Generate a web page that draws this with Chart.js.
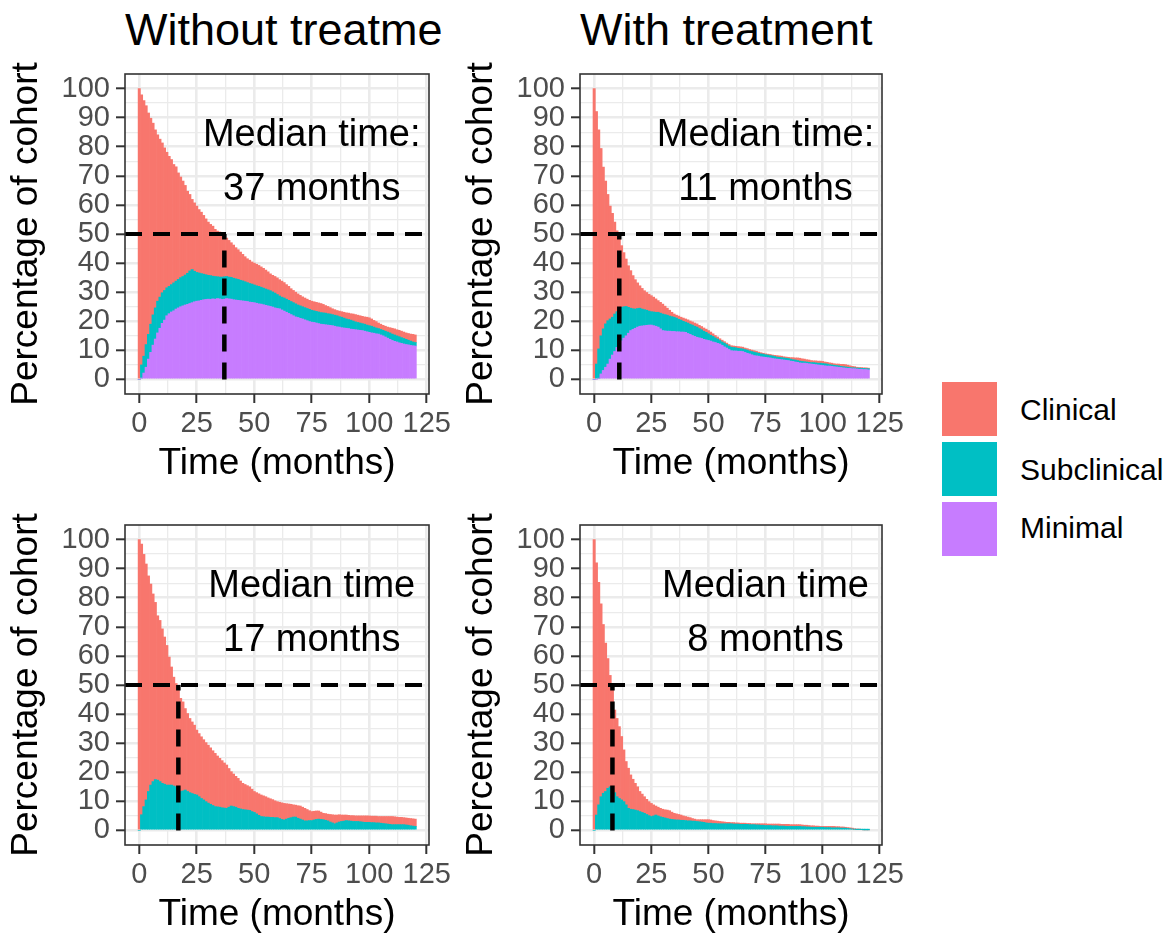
<!DOCTYPE html>
<html><head><meta charset="utf-8">
<script src="https://cdn.jsdelivr.net/npm/chart.js@4.4.1/dist/chart.umd.min.js"></script>
<style>
html,body{margin:0;padding:0;background:#fff;width:1172px;height:938px;overflow:hidden;font-family:"Liberation Sans",Arial,sans-serif;}
.panel{position:absolute;}
.title{position:absolute;font-size:45px;line-height:45px;color:#000;white-space:nowrap;}
.key{position:absolute;left:942px;width:55px;height:54px;}
.lab{position:absolute;left:1020px;font-size:30px;line-height:30px;color:#000;white-space:nowrap;}
</style></head><body>
<div class="title" style="left:125px;top:7px">Without treatme</div>
<div class="title" style="left:580px;top:7px">With treatment</div>
<div class="panel" style="left:0;top:54px"><canvas id="c0" width="455" height="435"></canvas></div>
<div class="panel" style="left:455px;top:54px"><canvas id="c1" width="465" height="435"></canvas></div>
<div class="panel" style="left:0;top:505px"><canvas id="c2" width="455" height="435"></canvas></div>
<div class="panel" style="left:455px;top:505px"><canvas id="c3" width="465" height="435"></canvas></div>
<div class="key" style="top:382px;background:#F8766D"></div>
<div class="key" style="top:442px;background:#00BFC4"></div>
<div class="key" style="top:502px;background:#C77CFF"></div>
<div class="lab" style="top:395px">Clinical</div>
<div class="lab" style="top:455px">Subclinical</div>
<div class="lab" style="top:513px">Minimal</div>
<script>
// ---------- data ----------
const months = [0,1,2,3,4,5,6,7,8,9,10,11,12,13,14,15,16,17,18,19,20,21,22,23,24,25,26,27,28,29,30,31,32,33,34,35,36,37,38,39,40,41,42,43,44,45,46,47,48,49,50,51,52,53,54,55,56,57,58,59,60,61,62,63,64,65,66,67,68,69,70,71,72,73,74,75,76,77,78,79,80,81,82,83,84,85,86,87,88,89,90,91,92,93,94,95,96,97,98,99,100,101,102,103,104,105,106,107,108,109,110,111,112,113,114,115,116,117,118,119,120];
const seriesNames = ['Clinical','Subclinical','Minimal'];
const seriesColors = ['#F8766D','#00BFC4','#C77CFF'];
const xTickValues = [0,25,50,75,100,125];
const yTickValues = [0,10,20,30,40,50,60,70,80,90,100];
const panelTitles = ['Without treatme','With treatment'];
const medianMonths = [37, 11, 17, 8];
const annotLine1 = ['Median time:','Median time:','Median time','Median time'];
const annotLine2 = ['37 months','11 months','17 months','8 months'];

// Top-left: total in any state (stack top), top of subclinical+minimal, minimal
const noTrtTotalA = [100,97.8,95.9,94.1,91.6,89.8,88.1,85.8,84.1,82.6,
81.3,79.6,78.1,76.7,75.6,73.9,73.1,71,69.6,68.2,
66.7,64.7,63.6,61.9,60.7,59.6,58.4,57.5,56.4,55.2,
54.1,53.3,52.7,51.6,51,50.7,50.2,49.9,48.6,47.8,
47,46.2,45.3,44.6,43.8,43,42.2,41.5,41,40.4,
40,39.6,39.2,38.7,38.2,37.6,37,36.3,35.8,35.4,
34.9,34.3,33.8,33.3,32.6,32,31.2,30.6,30,29.4,
28.9,28.4,28,27.6,27.2,26.9,26.7,26.5,26.3,26.1,
25.8,25.4,25.1,24.7,24.3,24,23.7,23.5,23.3,23.1,
22.9,22.8,22.6,22.5,22.3,22.1,21.9,21.7,21.5,21.4,
21.2,20.8,20.3,19.9,19.4,19,18.6,18.3,18,17.8,
17.6,17.4,17.1,16.9,16.6,16.3,16,15.8,15.6,15.5,
15.3];
const noTrtUpperA = [0,5,8,12,15.5,19,22.2,24.6,26.9,28.3,
29.8,30.6,31.5,32,32.6,33.2,33.8,34.4,35,35.4,
35.9,36.5,37.3,37.8,37.2,36.8,36.6,36.4,36.2,36,
35.8,35.7,35.5,35.4,35.3,35.2,35.2,35.3,35.4,35.2,
35.1,34.8,34.6,34.4,34.1,33.9,33.6,33.3,33,32.8,
32.5,32.2,32,31.7,31.4,31.1,30.8,30.5,30.1,29.7,
29.2,28.7,28.3,28,27.6,27.2,26.8,26.4,26,25.6,
25.3,25,24.7,24.4,24.1,23.8,23.6,23.4,23.2,23,
22.9,22.8,22.6,22.5,22.3,22.1,21.9,21.6,21.4,21.1,
20.8,20.6,20.4,20.1,19.8,19.6,19.4,19.2,19,18.7,
18.5,18.3,18,17.7,17.5,17.2,16.9,16.6,16.3,16,
15.6,15.3,15,14.7,14.4,14.1,13.8,13.5,13.2,12.9,
12.7];
const noTrtMinimalA = [0,0.5,2.2,4.2,7,9.3,11.8,13.9,16,17.6,
19.3,20.4,21.9,22.6,23.2,23.6,24.2,24.6,25,25.3,
25.6,25.8,26.1,26.4,26.7,26.9,27,27.2,27.4,27.5,
27.6,27.5,27.7,27.6,27.8,27.7,27.5,27.6,27.8,27.7,
27.6,27.4,27.3,27.2,27.1,27,26.9,26.8,26.6,26.5,
26.4,26.2,26,25.9,25.7,25.5,25.3,25.1,24.9,24.6,
24.4,24.3,23.9,23.5,23.1,22.7,22.3,21.9,21.5,21.3,
21,20.8,20.5,20.2,19.9,19.7,19.6,19.4,19.2,19,
18.9,18.8,18.7,18.6,18.5,18.3,18.1,18,17.8,17.7,
17.6,17.5,17.3,17.2,17.1,17,16.9,16.8,16.6,16.4,
16.2,16,15.9,15.7,15.6,15.3,15,14.6,14.2,13.8,
13.4,13.1,12.9,12.6,12.4,12.2,12,11.9,11.7,11.6,
11.5];

// Top-right
const trtTotalA = [100,92.1,85.8,79.4,73,68.2,63.6,59.6,57.1,54.1,
51.1,48.2,46,43.6,41.4,39.1,37.4,35.7,34.3,33.2,
32.2,31.3,30.5,29.9,29.3,28.8,28.3,27.7,27.1,26.5,
25.9,25.2,24.5,23.8,23.1,22.5,22.1,21.8,21.4,21.1,
20.8,20.5,20.1,19.8,19.4,19.1,18.6,18.2,17.7,17.3,
16.8,16.3,15.7,15.1,14.6,14,13.5,13,12.5,12,
11.6,11.5,11.4,11.3,11.2,11.1,10.8,10.6,10.3,10.1,
9.9,9.7,9.4,9.2,9,8.8,8.7,8.6,8.4,8.3,
8.2,8.1,8,7.8,7.7,7.6,7.5,7.5,7.4,7.4,
7.3,7.1,7,6.8,6.7,6.5,6.4,6.4,6.3,6.3,
6.2,6,5.9,5.7,5.6,5.4,5.3,5.3,5.2,5.2,
5.1,4.9,4.7,4.5,4.4,4.2,4.1,4.1,4,4,
3.9];
const trtUpperA = [0,5.3,10.5,15,17.4,19.1,20.2,20.8,21.4,22.5,
23.3,24.2,24.8,25,25.1,24.8,24.5,24.3,24.2,24.4,
24.5,24.2,24,23.8,23.5,23.3,23.2,23.1,23.1,22.8,
22.5,22.3,22.1,21.8,21.6,21.4,21.1,20.7,20.4,20,
19.7,19.4,19,18.7,18.3,18,17.5,17.1,16.6,16.2,
15.7,15.2,14.8,14.3,13.9,13.4,12.9,12.5,12,11.5,
11.1,11,10.9,10.7,10.6,10.5,10.3,10.1,9.8,9.6,
9.4,9.2,9,8.8,8.7,8.5,8.4,8.2,8.1,7.9,
7.7,7.6,7.5,7.4,7.3,7.2,7,6.8,6.7,6.5,
6.3,6.2,6.1,6,5.9,5.8,5.8,5.7,5.6,5.6,
5.5,5.4,5.3,5.1,5,4.9,4.8,4.7,4.5,4.4,
4.3,4.2,4.1,4,4,3.9,3.9,3.8,3.8,3.7,
3.7];
const trtMinimalA = [0,0,0.4,1.9,3.1,4.2,5.3,7,8.4,9.6,
11,12.2,13.3,14.2,15,15.9,16.8,17.2,17.6,18,
18.3,18.4,18.5,18.6,18.7,18.7,18.5,18.3,18,17.4,
16.8,16.7,16.6,16.6,16.5,16.5,16.4,16.4,16.3,16.3,
16.2,15.8,15.5,15.1,14.8,14.5,14.3,14.1,13.8,13.6,
13.4,13.2,12.9,12.7,12.4,12.2,11.7,11.2,10.8,10.3,
9.9,9.8,9.8,9.7,9.7,9.6,9.3,9,8.8,8.5,
8.2,8.1,8,7.8,7.7,7.6,7.5,7.4,7.2,7.1,
7,6.9,6.8,6.7,6.6,6.5,6.3,6.2,6,5.9,
5.7,5.6,5.6,5.5,5.4,5.3,5.2,5.1,5,4.9,
4.8,4.7,4.6,4.6,4.5,4.4,4.3,4.2,4.1,4,
3.9,3.8,3.8,3.7,3.7,3.6,3.5,3.5,3.4,3.4,
3.3];

// Bottom-left (no minimal state)
const noTrtTotalB = [100,98.4,94.9,91.6,87.5,84.7,81.3,78.4,73.8,72.2,
69.3,66.5,63.6,59.6,56.2,52.7,50.5,48.2,45.4,44.2,
41.9,40.2,38.5,37.3,36.2,34.5,33.3,32.2,31.2,30.2,
29.3,28.4,27.4,26.5,25.6,24.8,24,23.2,22.5,21.3,
20.2,19.4,18.6,17.9,17,16.2,15.8,15.4,15,14.2,
13.4,13,12.6,12.2,11.9,11.6,11.2,10.9,10.6,10.2,
9.9,9.7,9.5,9.3,9.2,9.1,9,8.8,8.7,8.5,
8.4,8,7.6,7.2,6.8,6.5,6.6,6.7,6.7,6.3,
5.9,5.8,5.6,5.5,5.4,5.3,5.3,5.4,5.3,5.3,
5.3,5.2,5.1,5.1,5,5,5,5,5,5,
5,4.9,4.9,4.9,4.8,4.8,4.8,4.8,4.8,4.8,
4.8,4.7,4.6,4.5,4.5,4.4,4.3,4.2,4.1,4,
3.9];
const noTrtSubclinicalB = [0,5.4,8.2,10.5,13.4,15.6,16.8,17.5,17.3,16.8,
16.2,15.9,15.6,15.6,15.6,15.3,15,13.9,13.4,13.6,
13.9,13.4,13,12.7,12.4,12.2,11.6,11,10.5,9.9,
9.4,9,8.6,8.2,8.1,8,7.8,7.7,7.6,8,
8.4,8.2,8,7.6,7.4,7.2,7.1,7,6.9,6.5,
6.2,5.7,5.2,4.8,4.7,4.6,4.6,4.5,4.5,4.4,
4.4,4.1,3.8,3.6,3.9,4.2,4.4,4.6,4.6,4.2,
3.9,3.6,3.3,3.3,3.4,3.4,3.6,3.8,3.9,3.8,
3.7,3.5,3.3,2.9,2.6,2.3,2.6,2.9,3.1,3.2,
3.4,3.3,3.2,3.1,3.1,3.1,3,2.9,2.8,2.8,
2.8,2.7,2.7,2.6,2.6,2.5,2.4,2.3,2.2,2.1,
2,2,2,2,2,2,1.9,1.8,1.6,1.5,
1.4];

// Bottom-right (no minimal state)
const trtTotalB = [100,92,85.3,77.9,70.8,64.4,59.1,53.3,49.3,41.4,
38.5,35.7,32.3,27.7,23.7,21.4,19.1,17.6,16.2,15,
13.4,12.5,11.6,10.7,9.9,9.3,8.8,8.4,8,7.6,
7.3,7.1,7,6.8,6.3,5.9,5.7,5.5,5.3,5,
4.8,4.6,4.4,4.1,3.9,3.7,3.7,3.7,3.7,3.7,
3.7,3.6,3.4,3.3,3.2,3.1,3,2.9,2.8,2.8,
2.7,2.7,2.6,2.6,2.5,2.5,2.5,2.4,2.4,2.3,
2.3,2.3,2.3,2.3,2.3,2.3,2.2,2.2,2.2,2.2,
2.2,2.2,2.1,2.1,2.1,2.1,2,2,2,2,
2,1.9,1.8,1.8,1.7,1.6,1.6,1.5,1.5,1.4,
1.4,1.4,1.4,1.4,1.4,1.4,1.3,1.3,1.2,1.2,
1.1,1,0.9,0.8,0.6,0.5,0.5,0.4,0.4,0.3,
0.3];
const trtSubclinicalB = [0,5.3,8.8,11.6,12.8,13.4,14.5,15,15,13,
11.6,11,10.5,9.9,8.8,7.6,7.3,7.2,7,6.8,
6.5,6.2,5.9,5.5,5.1,4.8,5,5.3,5,4.7,
4.5,4.3,4.1,3.9,3.8,3.7,3.6,3.6,3.5,3.5,
3.4,3.3,3.3,3.2,3.2,3.1,3,2.9,2.8,2.6,
2.5,2.5,2.4,2.4,2.3,2.3,2.3,2.3,2.3,2.3,
2.3,2.2,2.2,2.2,2.1,2.1,2.1,2.1,2,2,
2,1.9,1.9,1.8,1.8,1.7,1.7,1.7,1.6,1.6,
1.6,1.5,1.5,1.5,1.4,1.4,1.4,1.4,1.4,1.4,
1.4,1.3,1.3,1.2,1.2,1.1,1.1,1.1,1.1,1.1,
1.1,1,1,1,0.9,0.9,0.9,0.9,0.8,0.8,
0.8,0.7,0.6,0.5,0.4,0.3,0.3,0.3,0.2,0.2,
0.2];

// ---------- build ----------
const FAMILY = "'Liberation Sans', Arial, Helvetica, sans-serif";
const diff = (a, b) => a.map((v, i) => Math.round((v - b[i]) * 10) / 10);

const panels = [
  {id:'c0', padRight:26, idx:0, clinical: diff(noTrtTotalA, noTrtUpperA), subclinical: diff(noTrtUpperA, noTrtMinimalA), minimal: noTrtMinimalA},
  {id:'c1', padRight:38, idx:1, clinical: diff(trtTotalA, trtUpperA), subclinical: diff(trtUpperA, trtMinimalA), minimal: trtMinimalA},
  {id:'c2', padRight:26, idx:2, clinical: diff(noTrtTotalB, noTrtSubclinicalB), subclinical: noTrtSubclinicalB, minimal: null},
  {id:'c3', padRight:38, idx:3, clinical: diff(trtTotalB, trtSubclinicalB), subclinical: trtSubclinicalB, minimal: null}
];

const marksPlugin = {
  id: 'marks',
  afterDatasetsDraw(chart, args, opts) {
    const {ctx, chartArea: a, scales: {x, y}} = chart;
    ctx.save();
    ctx.beginPath(); ctx.rect(a.left, a.top, a.width, a.height); ctx.clip();
    ctx.strokeStyle = '#000';
    ctx.lineCap = 'butt';
    const y50 = y.getPixelForValue(50);
    ctx.setLineDash([17, 11]);
    ctx.lineWidth = 3.8;
    ctx.beginPath(); ctx.moveTo(a.left, y50); ctx.lineTo(a.right, y50); ctx.stroke();
    const xm = x.getPixelForValue(opts.median);
    ctx.lineWidth = 4.5;
    ctx.beginPath(); ctx.moveTo(xm, y.getPixelForValue(0)); ctx.lineTo(xm, y50); ctx.stroke();
    ctx.setLineDash([]);
    ctx.fillStyle = '#000';
    ctx.font = '38px ' + FAMILY;
    ctx.textAlign = 'center';
    ctx.textBaseline = 'middle';
    ctx.fillText(opts.line1, x.getPixelForValue(75), y.getPixelForValue(84));
    ctx.fillText(opts.line2, x.getPixelForValue(75), y.getPixelForValue(65.4));
    ctx.restore();
  },
  afterDraw(chart) {
    const {ctx, chartArea: a} = chart;
    ctx.save();
    ctx.strokeStyle = '#333333';
    ctx.lineWidth = 1.6;
    ctx.strokeRect(a.left, a.top, a.width, a.height);
    ctx.restore();
  }
};

panels.forEach(p => {
  const datasets = [];
  if (p.minimal) datasets.push({label: seriesNames[2], data: p.minimal, backgroundColor: seriesColors[2]});
  datasets.push({label: seriesNames[1], data: p.subclinical, backgroundColor: seriesColors[1]});
  datasets.push({label: seriesNames[0], data: p.clinical, backgroundColor: seriesColors[0]});
  datasets.forEach(d => { d.borderWidth = 0; d.barPercentage = 1; d.categoryPercentage = 1; });

  new Chart(document.getElementById(p.id), {
    type: 'bar',
    data: {labels: months, datasets},
    options: {
      responsive: false,
      animation: false,
      devicePixelRatio: 1,
      layout: {padding: {left: 0, top: 20, right: p.padRight, bottom: 0}},
      plugins: {
        legend: {display: false},
        tooltip: {enabled: false},
        marks: {median: medianMonths[p.idx], line1: annotLine1[p.idx], line2: annotLine2[p.idx]}
      },
      scales: {
        x: {
          type: 'linear', stacked: true, min: -6.2, max: 126, offset: false,
          afterBuildTicks: s => {
            const t = [];
            xTickValues.forEach((v, i) => { t.push({value: v}); if (i < xTickValues.length - 1) t.push({value: v + 12.5}); });
            s.ticks = t;
          },
          afterFit: s => { s.height = 95; s.paddingLeft = 0; s.paddingRight = 0; },
          ticks: {
            autoSkip: false, maxRotation: 0, minRotation: 0, padding: 4,
            color: '#4D4D4D', font: {size: 29, family: FAMILY},
            callback: v => xTickValues.includes(v) ? String(v) : ''
          },
          grid: {
            offset: false,
            color: '#EBEBEB',
            lineWidth: c => (c.tick && xTickValues.includes(c.tick.value)) ? 2.6 : 1.3,
            tickLength: 9, tickWidth: 2,
            tickColor: c => (c.tick && xTickValues.includes(c.tick.value)) ? '#333333' : 'rgba(0,0,0,0)'
          },
          border: {display: false},
          title: {display: true, text: 'Time (months)', color: '#000', font: {size: 37, family: FAMILY}, padding: {top: 0, bottom: 3}}
        },
        y: {
          stacked: true, min: -5, max: 105,
          afterBuildTicks: s => {
            const t = [];
            yTickValues.forEach((v, i) => { t.push({value: v}); if (i < yTickValues.length - 1) t.push({value: v + 5}); });
            s.ticks = t;
          },
          afterFit: s => { s.width = 125; s.paddingTop = 0; s.paddingBottom = 0; },
          ticks: {
            autoSkip: false, padding: 6,
            color: '#4D4D4D', font: {size: 29, family: FAMILY},
            callback: v => yTickValues.includes(v) ? String(v) : ''
          },
          grid: {
            color: '#EBEBEB',
            lineWidth: c => (c.tick && yTickValues.includes(c.tick.value)) ? 2.6 : 1.3,
            tickLength: 9, tickWidth: 2,
            tickColor: c => (c.tick && yTickValues.includes(c.tick.value)) ? '#333333' : 'rgba(0,0,0,0)'
          },
          border: {display: false},
          title: {display: true, text: 'Percentage of cohort', color: '#000', font: {size: 37, family: FAMILY}, padding: {top: 5, bottom: 0}}
        }
      }
    },
    plugins: [marksPlugin]
  });
});
</script>
</body></html>
